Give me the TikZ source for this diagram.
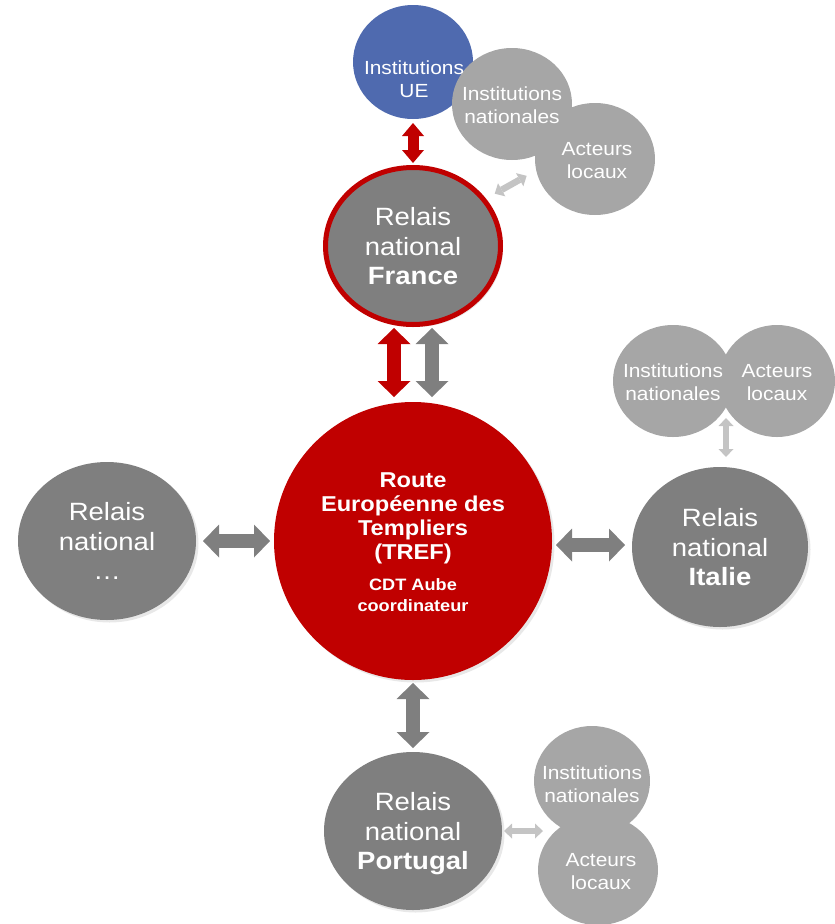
\documentclass[tikz,border=0pt]{standalone}
\usepackage{fontspec}
\setmainfont{Liberation Sans}
\usetikzlibrary{shapes.geometric,arrows.meta,shadows,calc}
\definecolor{tred}{RGB}{192,0,0}
\definecolor{dgrey}{RGB}{127,127,127}
\definecolor{lgrey}{RGB}{166,166,166}
\definecolor{agrey}{RGB}{196,196,196}
\definecolor{ublue}{RGB}{79,106,175}
\newcommand\ctext[3]{\makebox[0pt]{\raisebox{-3.5pt}[\height][\depth]{\scalebox{1.1}[1]{\fontsize{#1}{#2}\selectfont\begin{tabular}{@{}c@{}}#3\end{tabular}}}}}
\begin{document}
\begin{tikzpicture}[x=1pt,y=-1pt,
  blob/.style={ellipse, inner sep=0pt, outer sep=0pt, text=white},
  shad/.style={drop shadow={shadow xshift=2.5pt, shadow yshift=-2.5pt, opacity=0.18}},
  bignode/.style={blob, fill=dgrey, minimum width=178pt, minimum height=158pt, shad},
  smallnode/.style={blob, fill=lgrey, minimum width=120pt, minimum height=112pt},
  txt/.style={text=white, inner sep=0pt},
  bigarrow/.style={line width=14pt, {Triangle[width=33pt,length=16pt,line width=0pt]}-{Triangle[width=33pt,length=16pt,line width=0pt]}},
  midarrow/.style={line width=11pt, {Triangle[width=22pt,length=13pt,line width=0pt]}-{Triangle[width=22pt,length=13pt,line width=0pt]}},
  lightarrow/.style={agrey, line width=6.5pt, {Triangle[width=15pt,length=8pt,line width=0pt]}-{Triangle[width=15pt,length=8pt,line width=0pt]}}
]
\useasboundingbox (0,0) rectangle (835,924);

% top cluster
\node[blob, fill=ublue, minimum width=120pt, minimum height=114pt] (ue) at (413,62) {};
\node[smallnode] (topnat) at (512,104) {};
\node[smallnode] (topact) at (595,159) {};

% Italy cluster
\node[smallnode] (itnat) at (673,381) {};
\node[smallnode, minimum width=116pt] (itact) at (777,381) {};

% Portugal cluster
\node[smallnode, minimum width=116pt, minimum height=110pt] (ptnat) at (592,781) {};
\node[smallnode, minimum height=110pt] (ptact) at (598,870) {};

% cluster texts
\node[txt] (uetext) at (414,78) {\ctext{19}{23}{Institutions\\UE}};
\node[txt] (topnattext) at (topnat.center) {\ctext{19}{23}{Institutions\\nationales}};
\node[txt] (topacttext) at ([xshift=2pt]topact.center) {\ctext{19}{23}{Acteurs\\locaux}};
\node[txt] (itnattext) at (itnat.center) {\ctext{19}{23}{Institutions\\nationales}};
\node[txt] (itacttext) at (itact.center) {\ctext{19}{23}{Acteurs\\locaux}};
\node[txt] (ptnattext) at ([yshift=-2pt]ptnat.center) {\ctext{19}{23}{Institutions\\nationales}};
\node[txt] (ptacttext) at ([xshift=3pt]ptact.center) {\ctext{19}{23}{Acteurs\\locaux}};

% main nodes
\node[bignode, draw=tred, line width=5pt, minimum width=175pt, minimum height=157pt, outer sep=2.5pt] (france) at (413,246)
  {\ctext{25}{29.5}{Relais\\national\\\textbf{France}}};
\node[bignode] (left) at (107,541) {\ctext{25}{29.5}{Relais\\national\\…}};
\node[bignode, minimum width=176pt, minimum height=160pt] (italy) at (720,547) {\ctext{25}{29.5}{Relais\\national\\\textbf{Italie}}};
\node[bignode] (portugal) at (413,831) {\ctext{25}{29.5}{Relais\\national\\\textbf{Portugal}}};
\node[blob, fill=tred, minimum width=278pt, minimum height=278pt, shad] (tref) at (413,541)
  {\makebox[0pt]{\raisebox{-3.5pt}[\height][\depth]{\scalebox{1.1}[1]{\fontsize{21.5}{24}\selectfont\bfseries\begin{tabular}{@{}c@{}}Route\\Européenne des\\Templiers\\(TREF)\\[7pt]
   {\fontsize{16.5}{18}\selectfont CDT Aube}\\[-3pt]{\fontsize{16.5}{18}\selectfont coordinateur}\end{tabular}}}}};

% connectors
\draw[midarrow, tred, shorten <=4pt, shorten >=2pt] (ue) -- (france);
\draw[lightarrow, shorten <=10pt, shorten >=11pt] (france.33) -- (topact.191);
\draw[bigarrow, tred, shorten <=1pt, shorten >=5pt] ([xshift=-19pt]france.south) -- ([xshift=-19pt]tref.north);
\draw[bigarrow, dgrey, shorten <=1pt, shorten >=5pt] ([xshift=19pt]france.south) -- ([xshift=19pt]tref.north);
\draw[bigarrow, dgrey, shorten <=7pt, shorten >=4pt] (left) -- (tref);
\draw[bigarrow, dgrey, shorten <=4pt, shorten >=7pt] ([yshift=-4pt]tref.east) -- ([yshift=2pt]italy.west);
\draw[bigarrow, dgrey, shorten <=3pt, shorten >=4pt] (tref) -- (portugal);
\coordinate (itv) at (726,408);
\draw[lightarrow, shorten <=10pt, shorten >=10pt] (itv) -- ([xshift=6pt]italy.north);
\coordinate (ptv) at (556,831);
\draw[lightarrow, shorten <=2pt, shorten >=13pt] (portugal.east) -- (ptv);
\end{tikzpicture}
\end{document}
